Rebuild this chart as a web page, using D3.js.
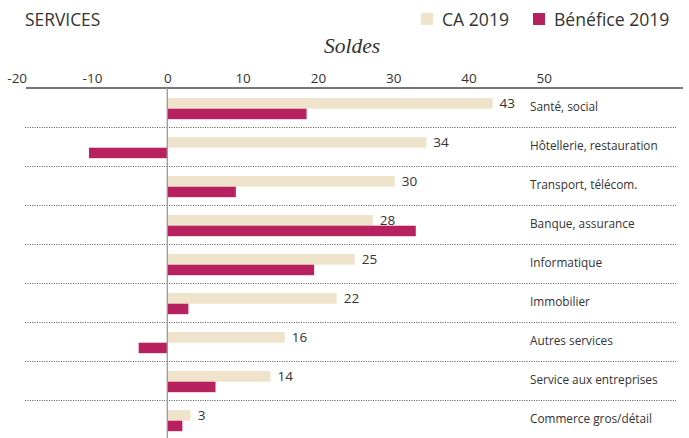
<!DOCTYPE html>
<html>
<head>
<meta charset="utf-8">
<script src="https://cdn.jsdelivr.net/npm/d3@7"></script>
<style>
  body { margin: 0; background: #fff; }
  svg { display: block; font-family: "Open Sans", sans-serif; }
</style>
</head>
<body>
<div id="chart"></div>
<script>
var categories = ["Santé, social", "Hôtellerie, restauration", "Transport, télécom.",
    "Banque, assurance", "Informatique", "Immobilier", "Autres services",
    "Service aux entreprises", "Commerce gros/détail"];
var ca2019 = [43.2, 34.4, 30.2, 27.3, 24.9, 22.5, 15.6, 13.7, 3.1];
var caLabels = ["43", "34", "30", "28", "25", "22", "16", "14", "3"];
var benefice2019 = [18.5, -10.4, 9.1, 33.0, 19.5, 2.8, -3.8, 6.4, 2.0];
var tickValues = [-20, -10, 0, 10, 20, 30, 40, 50];

var width = 689, height = 438;
var colorCA = "#efe3cc", colorBen = "#b8215f", textColor = "#333";

var svg = d3.select("#chart").append("svg")
    .attr("width", width)
    .attr("height", height);

var x = d3.scaleLinear().domain([-20, 50]).range([16.7, 543.8]);
var y = d3.scaleBand().domain(categories).range([88, 439]);

// title + legend
svg.append("text").attr("x", 25).attr("y", 26)
    .attr("font-size", 17.4).attr("fill", textColor).text("SERVICES");

var legend = [{name: "CA 2019", color: colorCA, x: 421}, {name: "Bénéfice 2019", color: colorBen, x: 533}];
legend.forEach(function(d) {
    svg.append("rect").attr("x", d.x).attr("y", 13).attr("width", 12).attr("height", 12).attr("fill", d.color);
    svg.append("text").attr("x", d.x + 21).attr("y", 26)
        .attr("font-size", 17.6).attr("fill", textColor).text(d.name);
});

svg.append("text").attr("x", 352).attr("y", 53)
    .attr("text-anchor", "middle")
    .attr("font-family", "'Liberation Serif', serif")
    .attr("font-style", "italic")
    .attr("font-size", 21.5).attr("fill", textColor).text("Soldes");

// top axis
var axis = svg.append("g").attr("transform", "translate(0,88)")
    .call(d3.axisTop(x).tickValues(tickValues).tickSize(0).tickPadding(5)
        .tickFormat(function(d) { return String(d); }));
axis.select(".domain").remove();
axis.selectAll("text").attr("font-size", 13.5).attr("fill", textColor)
    .attr("font-family", "'Open Sans', sans-serif");

svg.append("line").attr("x1", 26).attr("x2", 683).attr("y1", 88).attr("y2", 88)
    .attr("stroke", "#777").attr("stroke-width", 2);

// separators
svg.selectAll(".sep").data(categories.slice(1)).enter().append("line")
    .attr("class", "sep")
    .attr("x1", 25).attr("x2", 676)
    .attr("y1", function(d) { return y(d) + 0.5; })
    .attr("y2", function(d) { return y(d) + 0.5; })
    .attr("stroke", "#555").attr("stroke-width", 1)
    .attr("stroke-dasharray", "1,1.4");

// bars
svg.selectAll(".ca").data(ca2019).enter().append("rect")
    .attr("class", "ca")
    .attr("x", function(d) { return x(Math.min(0, d)); })
    .attr("y", function(d, i) { return y(categories[i]) + 10; })
    .attr("width", function(d) { return Math.abs(x(d) - x(0)); })
    .attr("height", 10.7)
    .attr("fill", colorCA);

svg.selectAll(".ben").data(benefice2019).enter().append("rect")
    .attr("class", "ben")
    .attr("x", function(d) { return x(Math.min(0, d)); })
    .attr("y", function(d, i) { return y(categories[i]) + 20.7; })
    .attr("width", function(d) { return Math.abs(x(d) - x(0)); })
    .attr("height", 10.5)
    .attr("fill", colorBen);

svg.selectAll(".val").data(ca2019).enter().append("text")
    .attr("class", "val")
    .attr("x", function(d) { return x(d) + 7; })
    .attr("y", function(d, i) { return y(categories[i]) + 19.5; })
    .attr("font-size", 13.5).attr("fill", textColor)
    .text(function(d, i) { return caLabels[i]; });

// zero line
svg.append("line").attr("x1", x(0)).attr("x2", x(0)).attr("y1", 88).attr("y2", 438)
    .attr("stroke", "#999").attr("stroke-width", 1.3);

// category labels
svg.selectAll(".cat").data(categories).enter().append("text")
    .attr("class", "cat")
    .attr("x", 530)
    .attr("y", function(d) { return y(d) + 22.5; })
    .attr("font-size", 11.8).attr("fill", textColor)
    .text(function(d) { return d; });
</script>
</body>
</html>
